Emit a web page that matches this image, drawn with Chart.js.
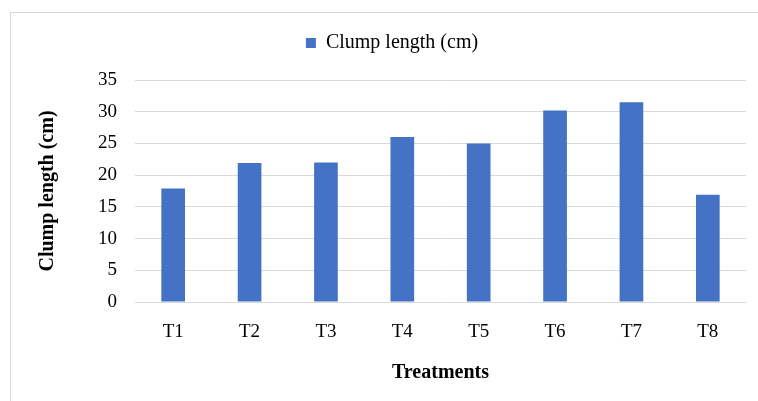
<!DOCTYPE html>
<html>
<head>
<meta charset="utf-8">
<script src="https://cdn.jsdelivr.net/npm/chart.js@4/dist/chart.umd.min.js"></script>
<style>
  html, body { margin: 0; padding: 0; background: #ffffff; }
  #wrap { position: relative; width: 758px; height: 401px; }
</style>
</head>
<body>
<div id="wrap"><canvas id="chart" width="758" height="401"></canvas></div>
<script>
// Treatments and their mean clump length (cm)
const treatments = ['T1', 'T2', 'T3', 'T4', 'T5', 'T6', 'T7', 'T8'];
const clumpLength = [17.9, 21.9, 22.0, 26.0, 25.0, 30.2, 31.5, 16.9];
const seriesName = 'Clump length (cm)';
const yAxisTitle = 'Clump length (cm)';
const xAxisTitle = 'Treatments';

const serif = '"Liberation Serif", "Times New Roman", serif';

// Light frame around the whole chart
const framePlugin = {
  id: 'frame',
  beforeDraw(chart) {
    const ctx = chart.ctx;
    ctx.save();
    ctx.fillStyle = '#ffffff';
    ctx.fillRect(0, 0, chart.width, chart.height);
    ctx.strokeStyle = '#d9d9d9';
    ctx.lineWidth = 1;
    ctx.strokeRect(10.5, 12.5, chart.width + 20, chart.height + 20);
    ctx.restore();
  }
};

// Reserve a fixed band above the plot for the legend and centre it over the plot
const legendBand = {
  id: 'legendBand',
  beforeInit(chart) {
    const origFit = chart.legend.fit;
    chart.legend.fit = function () {
      origFit.call(this);
      this.height = 80;
    };
  },
  afterLayout(chart) {
    chart.legend.left += 38;
  }
};

new Chart(document.getElementById('chart'), {
  type: 'bar',
  data: {
    labels: treatments,
    datasets: [{
      label: seriesName,
      data: clumpLength,
      backgroundColor: '#4472c4',
      borderWidth: 0,
      barPercentage: 0.31,
      categoryPercentage: 1.0
    }]
  },
  options: {
    responsive: false,
    animation: false,
    layout: { padding: { left: 0, right: 12, top: 0, bottom: 0 } },
    plugins: {
      legend: {
        position: 'top',
        labels: {
          color: '#000000',
          font: { family: serif, size: 20 },
          boxWidth: 10,
          boxHeight: 10,
          padding: 33
        }
      },
      tooltip: { enabled: false }
    },
    scales: {
      x: {
        grid: { display: false, drawTicks: false },
        border: { display: false },
        ticks: { color: '#000000', font: { family: serif, size: 19 }, padding: 19 },
        title: {
          display: true,
          text: xAxisTitle,
          color: '#000000',
          font: { family: serif, size: 20, weight: 'bold' },
          padding: { top: 17, bottom: 16 }
        },
        afterFit(scale) { scale.height = 99; }
      },
      y: {
        min: 0,
        max: 35,
        grid: { color: '#d9d9d9', lineWidth: 1, drawTicks: false },
        border: { display: false },
        ticks: { stepSize: 5, color: '#000000', font: { family: serif, size: 19 }, padding: 18 },
        title: {
          display: true,
          text: yAxisTitle,
          color: '#000000',
          font: { family: serif, size: 20, weight: 'bold' },
          padding: { top: 36, bottom: 0 }
        },
        afterFit(scale) { scale.width = 135; }
      }
    }
  },
  plugins: [framePlugin, legendBand]
});
</script>
</body>
</html>
